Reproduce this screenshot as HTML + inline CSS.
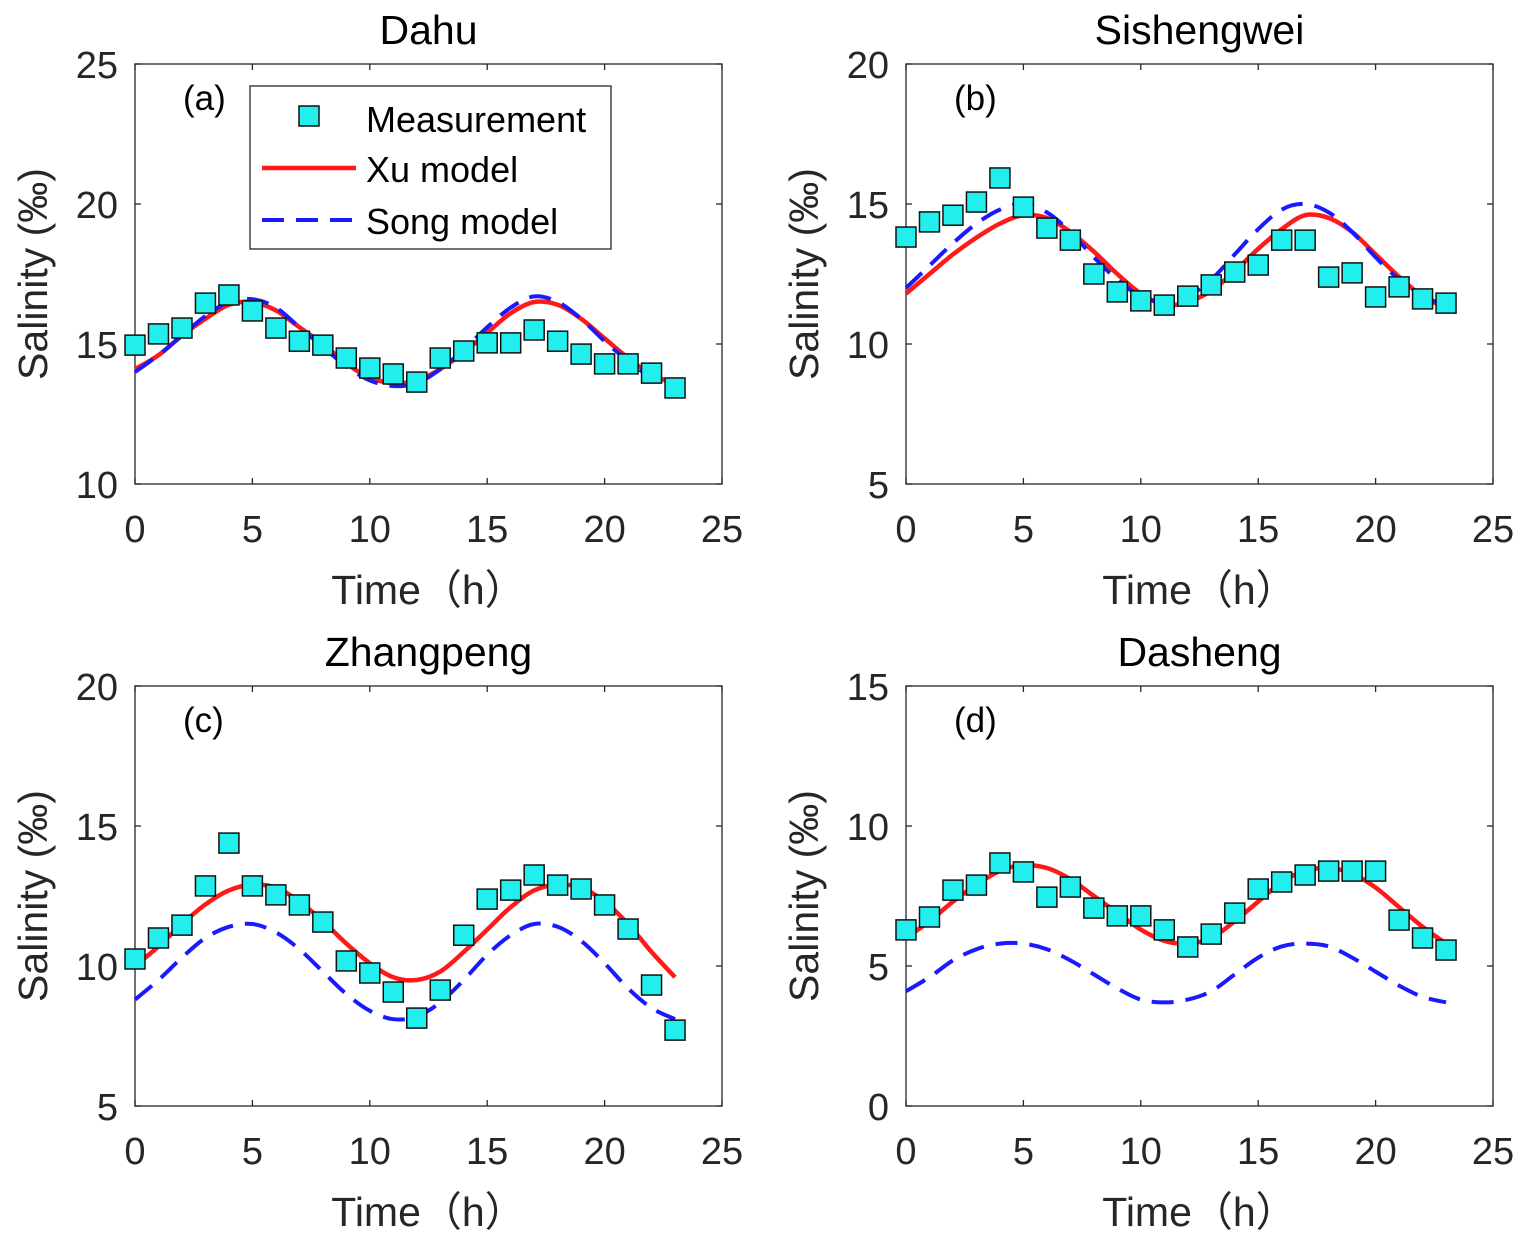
<!DOCTYPE html>
<html><head><meta charset="utf-8"><style>
html,body{margin:0;padding:0;background:#fff;}
svg{display:block;font-family:"Liberation Sans","Noto Sans CJK SC",sans-serif;}
</style></head><body>
<svg id="fig" width="1527" height="1241" viewBox="0 0 1527 1241"></svg>
<script>
const hours=[0,1,2,3,4,5,6,7,8,9,10,11,12,13,14,15,16,17,18,19,20,21,22,23];
const xTicks=[0,5,10,15,20,25];
const titles=["Dahu","Sishengwei","Zhangpeng","Dasheng"];
const tags=["(a)","(b)","(c)","(d)"];
const yTicksA=[10,15,20,25], yTicksB=[5,10,15,20], yTicksC=[5,10,15,20], yTicksD=[0,5,10,15];
const measA=[14.96,15.36,15.57,16.46,16.75,16.18,15.57,15.1,14.96,14.5,14.14,13.93,13.64,14.5,14.75,15.04,15.04,15.5,15.1,14.64,14.29,14.29,13.96,13.43];
const xuA=[14.1,14.6,15.3,15.9,16.4,16.5,16.2,15.6,15.0,14.3,13.8,13.6,13.7,14.1,14.7,15.4,16.1,16.5,16.4,15.9,15.2,14.5,13.9,13.6];
const songA=[14.0,14.6,15.3,16.0,16.5,16.6,16.3,15.6,14.9,14.2,13.7,13.5,13.6,14.1,14.8,15.6,16.3,16.7,16.5,15.9,15.1,14.4,13.8,13.5];
const measB=[13.82,14.36,14.6,15.07,15.93,14.89,14.14,13.71,12.5,11.86,11.54,11.39,11.71,12.11,12.57,12.82,13.71,13.71,12.39,12.54,11.68,12.04,11.61,11.46];
const xuB=[11.8,12.5,13.2,13.8,14.3,14.6,14.5,14.0,13.3,12.5,11.8,11.4,11.5,11.9,12.6,13.4,14.1,14.6,14.5,14.0,13.2,12.4,11.7,11.3];
const songB=[12.0,12.8,13.6,14.3,14.8,15.0,14.7,14.0,13.1,12.3,11.7,11.5,11.7,12.3,13.2,14.1,14.8,15.0,14.7,14.0,13.1,12.3,11.7,11.4];
const measC=[10.25,11,11.46,12.86,14.39,12.86,12.54,12.18,11.57,10.18,9.75,9.07,8.14,9.14,11.1,12.39,12.71,13.25,12.89,12.75,12.18,11.32,9.32,7.71];
const xuC=[10.0,10.7,11.5,12.2,12.7,12.9,12.8,12.3,11.6,10.8,10.1,9.6,9.5,9.8,10.5,11.3,12.1,12.7,12.9,12.8,12.3,11.5,10.5,9.6];
const songC=[8.8,9.5,10.3,11.0,11.4,11.5,11.2,10.6,9.8,9.0,8.4,8.1,8.2,8.7,9.5,10.4,11.1,11.5,11.4,10.9,10.1,9.2,8.5,8.1];
const measD=[6.29,6.75,7.71,7.89,8.68,8.36,7.46,7.82,7.07,6.79,6.79,6.29,5.68,6.14,6.89,7.75,8.0,8.25,8.39,8.39,8.39,6.64,6.0,5.57];
const xuD=[6.0,6.6,7.3,7.9,8.4,8.6,8.5,8.1,7.5,6.9,6.3,5.9,5.8,6.0,6.6,7.3,8.0,8.4,8.5,8.3,7.8,7.1,6.4,5.8];
const songD=[4.1,4.6,5.2,5.6,5.8,5.8,5.6,5.2,4.7,4.2,3.8,3.7,3.8,4.1,4.7,5.3,5.7,5.8,5.7,5.3,4.8,4.3,3.9,3.7];

const NS="http://www.w3.org/2000/svg";
const svg=document.getElementById('fig');
function mk(tag,attrs,parent,text){const e=document.createElementNS(NS,tag);for(const k in attrs)e.setAttribute(k,attrs[k]);if(text!==undefined)e.textContent=text;(parent||svg).appendChild(e);return e;}
function smooth(pts){let d="M"+pts[0][0]+","+pts[0][1];for(let i=0;i<pts.length-1;i++){const p0=pts[i-1]||pts[i],p1=pts[i],p2=pts[i+1],p3=pts[i+2]||p2;d+=" C"+(p1[0]+(p2[0]-p0[0])/6)+","+(p1[1]+(p2[1]-p0[1])/6)+" "+(p2[0]-(p3[0]-p1[0])/6)+","+(p2[1]-(p3[1]-p1[1])/6)+" "+p2[0]+","+p2[1];}return d;}
const panels=[
 {L:135,T:64,yt:yTicksA,m:measA,xu:xuA,song:songA},
 {L:906,T:64,yt:yTicksB,m:measB,xu:xuB,song:songB},
 {L:135,T:686,yt:yTicksC,m:measC,xu:xuC,song:songC},
 {L:906,T:686,yt:yTicksD,m:measD,xu:xuD,song:songD}];
const W=587,H=420;
panels.forEach((p,i)=>{
 const g=mk('g',{});
 
 
 const y0=p.yt[0],y1=p.yt[p.yt.length-1];
 const X=v=>p.L+v/25*W, Y=v=>p.T+H-(v-y0)/(y1-y0)*H;
 const box=mk('rect',{x:p.L,y:p.T,width:W,height:H,fill:'#fff',stroke:'#262626','stroke-width':1.3},g);
 
 xTicks.forEach(t=>{mk('line',{x1:X(t),x2:X(t),y1:p.T+H,y2:p.T+H-6,stroke:'#262626','stroke-width':1.3},g);mk('line',{x1:X(t),x2:X(t),y1:p.T,y2:p.T+6,stroke:'#262626','stroke-width':1.3},g);
  const tl=mk('text',{x:X(t),y:p.T+H+58,'font-size':38,'text-anchor':'middle',fill:'#262626'},g,t);});
 p.yt.forEach(t=>{mk('line',{x1:p.L,x2:p.L+6,y1:Y(t),y2:Y(t),stroke:'#262626','stroke-width':1.3},g);mk('line',{x1:p.L+W,x2:p.L+W-6,y1:Y(t),y2:Y(t),stroke:'#262626','stroke-width':1.3},g);
  const tl=mk('text',{x:p.L-17,y:Y(t)+14,'font-size':38,'text-anchor':'end',fill:'#262626'},g,t);});
 const ti=mk('text',{x:p.L+W/2,y:p.T-20,'font-size':41,'text-anchor':'middle',fill:'#000'},g,titles[i]);
 const tg=mk('text',{x:p.L+48,y:p.T+46,'font-size':35,fill:'#000'},g,tags[i]);
 const xl=mk('text',{x:p.L+W/2,y:p.T+H+120,'font-size':41,'text-anchor':'middle',fill:'#262626'},g,'Time（h）');
 const yl=mk('text',{x:0,y:0,'font-size':41,'text-anchor':'middle',fill:'#262626',transform:`translate(${p.L-88},${p.T+H/2}) rotate(-90)`},g,'Salinity (‰)');
 const xu=mk('path',{d:smooth(hours.map((h,k)=>[X(h),Y(p.xu[k])])),fill:'none',stroke:'#ff1a1a','stroke-width':4.5},g);
 
 const so=mk('path',{d:smooth(hours.map((h,k)=>[X(h),Y(p.song[k])])),fill:'none',stroke:'#1a1aff','stroke-width':4,'stroke-dasharray':'22 12'},g);
 
 hours.forEach((h,k)=>{const r=mk('rect',{x:X(h)-10,y:Y(p.m[k])-10,width:20,height:20,fill:'#22eeee',stroke:'#111','stroke-width':1.5},g);
  });
});
const lg=mk('g',{});


mk('rect',{x:250,y:86,width:361,height:163,fill:'#fff',stroke:'#262626','stroke-width':1.3},lg);
mk('rect',{x:299,y:106,width:20,height:20,fill:'#22eeee',stroke:'#111','stroke-width':1.5},lg);
mk('line',{x1:262,x2:356,y1:168,y2:168,stroke:'#ff1a1a','stroke-width':4.5},lg);
mk('line',{x1:262,x2:356,y1:220,y2:220,stroke:'#1a1aff','stroke-width':4,'stroke-dasharray':'22 12'},lg);
const l1=mk('text',{x:366,y:132,'font-size':36,fill:'#000'},lg,'Measurement');
const l2=mk('text',{x:366,y:182,'font-size':36,fill:'#000'},lg,'Xu model');
const l3=mk('text',{x:366,y:234,'font-size':36,fill:'#000'},lg,'Song model');
</script>
</body></html>
